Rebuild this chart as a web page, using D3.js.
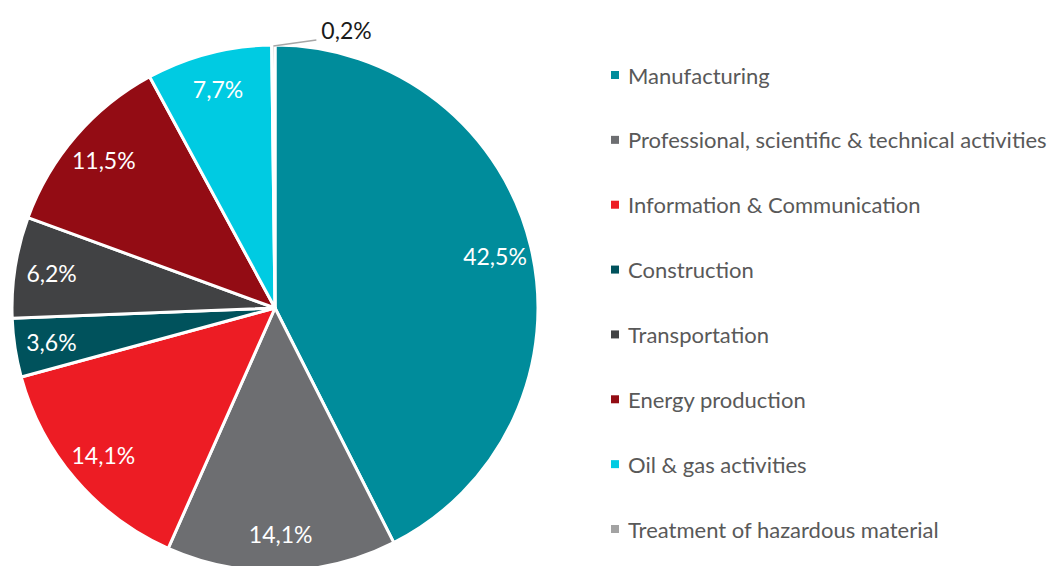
<!DOCTYPE html>
<html>
<head>
<meta charset="utf-8">
<script src="https://cdn.jsdelivr.net/npm/d3@7"></script>
<style>
  body { margin: 0; background: #fff; }
  text { font-family: Lato, "Open Sans", sans-serif; }
</style>
</head>
<body>
<div id="chart"></div>
<script>
const categories = [
    "Manufacturing",
    "Professional, scientific & technical activities",
    "Information & Communication",
    "Construction",
    "Transportation",
    "Energy production",
    "Oil & gas activities",
    "Treatment of hazardous material"
];
const shares = [42.5, 14.1, 14.1, 3.6, 6.2, 11.5, 7.7, 0.2];
const colors = ["#008c9b", "#6d6e71", "#ed1c24", "#00525c", "#414244", "#930c14", "#00cbe2", "#a3a3a3"];

const width = 1054;
const height = 566;
const cx = 275, cy = 308, radius = 263;

const svg = d3.select("#chart")
    .append("svg")
    .attr("width", width)
    .attr("height", height);

// comma decimal like the source
const fmt = d3.formatLocale({ decimal: ",", thousands: ".", grouping: [3], currency: ["", "€"] })
    .format(".1f");

const pie = d3.pie().sort(null).value(d => d);
const arcs = pie(shares);

const arc = d3.arc().innerRadius(0).outerRadius(radius);
const labelArc = d3.arc().innerRadius(radius * 0.86).outerRadius(radius * 0.86);

const g = svg.append("g").attr("transform", `translate(${cx},${cy})`);

g.selectAll("path.slice")
    .data(arcs)
    .join("path")
    .attr("class", "slice")
    .attr("d", arc)
    .attr("fill", (d, i) => colors[i])
    .attr("stroke", "#fff")
    .attr("stroke-width", 3)
    .attr("stroke-linejoin", "round");

// labels inside, except tiny slice
const big = arcs.filter(d => d.value >= 1);
g.selectAll("text.inner")
    .data(big)
    .join("text")
    .attr("class", "inner")
    .attr("x", d => labelArc.centroid(d)[0])
    .attr("y", d => labelArc.centroid(d)[1])
    .attr("text-anchor", "middle")
    .attr("dominant-baseline", "central")
    .attr("fill", "#fff")
    .attr("font-size", 23)
    .text(d => fmt(d.value) + "%");

// tiny slice gets a leader line and an outside label
const small = arcs.filter(d => d.value < 1);
small.forEach(d => {
    const a = (d.startAngle + d.endAngle) / 2;
    const x0 = Math.sin(a) * (radius - 1);
    const y0 = -Math.cos(a) * (radius - 1);
    g.append("path")
        .attr("d", `M${x0},${y0} L${x0 + 43},${y0 - 6}`)
        .attr("stroke", "#a6a6a6")
        .attr("stroke-width", 1.3)
        .attr("fill", "none");
    g.append("text")
        .attr("x", x0 + 48)
        .attr("y", y0 - 16)
        .attr("dominant-baseline", "central")
        .attr("fill", "#1a1a1a")
        .attr("font-size", 23)
        .text(fmt(d.value) + "%");
});

// legend
const legendY = d3.scalePoint()
    .domain(categories)
    .range([75, 529]);

const legend = svg.append("g").selectAll("g")
    .data(categories)
    .join("g")
    .attr("transform", d => `translate(611,${legendY(d)})`);

legend.append("rect")
    .attr("x", 0)
    .attr("y", -4)
    .attr("width", 8)
    .attr("height", 8)
    .attr("fill", (d, i) => colors[i]);

legend.append("text")
    .attr("x", 17)
    .attr("y", 0)
    .attr("dominant-baseline", "central")
    .attr("fill", "#595959")
    .attr("font-size", 22)
    .text(d => d);
</script>
</body>
</html>
